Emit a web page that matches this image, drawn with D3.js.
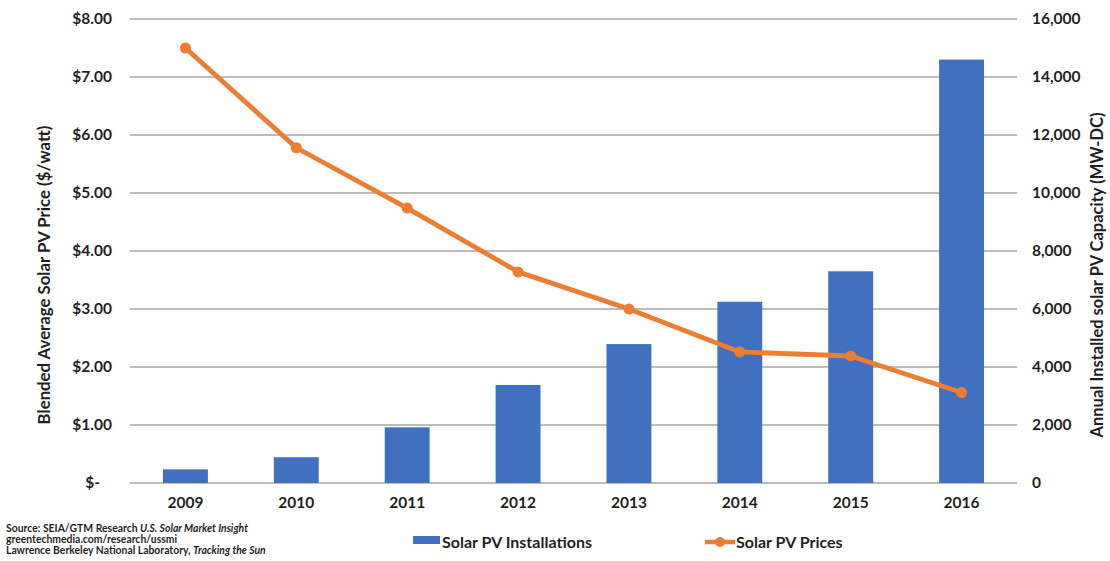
<!DOCTYPE html>
<html>
<head>
<meta charset="utf-8">
<script src="https://cdn.jsdelivr.net/npm/d3@7"></script>
<style>
  body { margin: 0; background: #fff; }
  svg text { font-family: Lato, "Open Sans", sans-serif; }
  .tick text { font-weight: bold; fill: #1f1f1f; }
</style>
</head>
<body>
<svg id="chart" width="1110" height="561"></svg>
<script>
var years = ["2009", "2010", "2011", "2012", "2013", "2014", "2015", "2016"];
var installs = [470, 890, 1920, 3380, 4790, 6250, 7300, 14600]; // MW-DC
var prices = [7.50, 5.78, 4.74, 3.64, 3.00, 2.26, 2.19, 1.56]; // $/watt
var priceTicks = [0, 1, 2, 3, 4, 5, 6, 7, 8];
var capTicks = [0, 2000, 4000, 6000, 8000, 10000, 12000, 14000, 16000];

var blue = "#4270c0";
var orange = "#ed7d31";

var svg = d3.select("#chart");
var plotLeft = 130, plotRight = 1017, plotTop = 19, plotBottom = 483;

var x = d3.scaleBand().domain(years).range([plotLeft, plotRight]).paddingInner(0.595).paddingOuter(0.2975);
var yPrice = d3.scaleLinear().domain([0, 8]).range([plotBottom, plotTop]);
var yCap = d3.scaleLinear().domain([0, 16000]).range([plotBottom, plotTop]);

// gridlines
svg.append("g")
    .selectAll("line")
    .data(priceTicks)
    .enter()
    .append("line")
    .attr("x1", plotLeft)
    .attr("x2", plotRight)
    .attr("y1", function (d) { return yPrice(d); })
    .attr("y2", function (d) { return yPrice(d); })
    .attr("stroke", "#a6a6a6")
    .attr("stroke-width", 1.5);

// left axis
var leftAxis = d3.axisLeft(yPrice)
    .tickValues(priceTicks)
    .tickSize(0)
    .tickPadding(18)
    .tickFormat(function (d) { return d === 0 ? "$-" : "$" + d3.format(".2f")(d); });
var gl = svg.append("g").attr("transform", "translate(" + plotLeft + ",0)").call(leftAxis);
gl.select(".domain").remove();
gl.selectAll("text").style("font-size", "15.5px");
gl.selectAll(".tick").filter(function (d) { return d === 0; }).select("text").attr("x", -30);

// right axis
var rightAxis = d3.axisRight(yCap)
    .tickValues(capTicks)
    .tickSize(0)
    .tickPadding(15)
    .tickFormat(d3.format(","));
var gr = svg.append("g").attr("transform", "translate(" + plotRight + ",0)").call(rightAxis);
gr.select(".domain").remove();
gr.selectAll("text").style("font-size", "15.5px");

// x axis
var xAxis = d3.axisBottom(x).tickSize(0).tickPadding(14);
var gx = svg.append("g").attr("transform", "translate(0," + plotBottom + ")").call(xAxis);
gx.select(".domain").remove();
gx.selectAll("text").style("font-size", "15.5px");

// bars
svg.append("g")
    .selectAll("rect")
    .data(installs)
    .enter()
    .append("rect")
    .attr("x", function (d, i) { return x(years[i]); })
    .attr("width", x.bandwidth())
    .attr("y", function (d) { return yCap(d); })
    .attr("height", function (d) { return plotBottom - yCap(d); })
    .attr("fill", blue);

// price line
var line = d3.line()
    .x(function (d, i) { return x(years[i]) + x.bandwidth() / 2; })
    .y(function (d) { return yPrice(d); });

svg.append("path")
    .datum(prices)
    .attr("d", line)
    .attr("fill", "none")
    .attr("stroke", orange)
    .attr("stroke-width", 4.8)
    .attr("stroke-linejoin", "round");

svg.append("g")
    .selectAll("circle")
    .data(prices)
    .enter()
    .append("circle")
    .attr("cx", function (d, i) { return x(years[i]) + x.bandwidth() / 2; })
    .attr("cy", function (d) { return yPrice(d); })
    .attr("r", 5.5)
    .attr("fill", orange);

// axis titles
svg.append("text")
    .attr("transform", "translate(50,275) rotate(-90)")
    .attr("text-anchor", "middle")
    .style("font-size", "16.8px")
    .style("font-weight", "bold")
    .attr("fill", "#1f1f1f")
    .text("Blended Average Solar PV Price ($/watt)");

svg.append("text")
    .attr("transform", "translate(1103,275) rotate(-90)")
    .attr("text-anchor", "middle")
    .style("font-size", "16.5px")
    .style("font-weight", "bold")
    .attr("fill", "#1f1f1f")
    .text("Annual Installed solar PV Capacity (MW-DC)");

// legend
var legend = svg.append("g").style("font-size", "16px").style("font-weight", "bold");
legend.append("rect")
    .attr("x", 413).attr("y", 536).attr("width", 27).attr("height", 8)
    .attr("fill", blue);
legend.append("text")
    .attr("x", 442).attr("y", 548)
    .attr("fill", "#1f1f1f")
    .text("Solar PV Installations");
legend.append("line")
    .attr("x1", 705).attr("x2", 735).attr("y1", 542).attr("y2", 542)
    .attr("stroke", orange).attr("stroke-width", 4.5);
legend.append("circle")
    .attr("cx", 720).attr("cy", 542).attr("r", 5)
    .attr("fill", orange);
legend.append("text")
    .attr("x", 736).attr("y", 548)
    .attr("fill", "#1f1f1f")
    .text("Solar PV Prices");

// source note
var src = svg.append("g").style("font-size", "10.4px").style("font-weight", "bold").attr("fill", "#1f1f1f");
var l1 = src.append("text").attr("x", 6).attr("y", 532);
l1.append("tspan").text("Source: SEIA/GTM Research ");
l1.append("tspan").style("font-style", "italic").text("U.S. Solar Market Insight");
src.append("text").attr("x", 6).attr("y", 543).text("greentechmedia.com/research/ussmi");
var l3 = src.append("text").attr("x", 6).attr("y", 554);
l3.append("tspan").text("Lawrence Berkeley National Laboratory, ");
l3.append("tspan").style("font-style", "italic").text("Tracking the Sun");
</script>
</body>
</html>
